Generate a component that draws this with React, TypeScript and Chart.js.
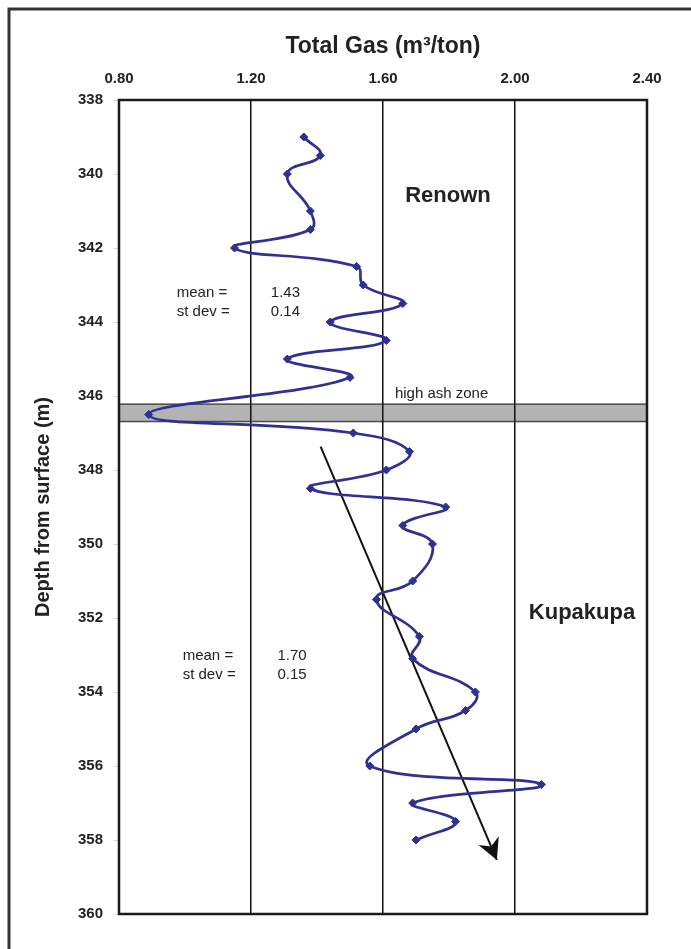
import React, { useEffect, useRef } from 'react';
import { Chart, registerables } from 'chart.js';

Chart.register(...registerables);

// ---- data ----
const depthM = [
  339.0, 339.5, 340.0, 341.0, 341.5, 342.0, 342.5, 343.0, 343.5, 344.0, 344.5,
  345.0, 345.5, 346.5, 347.0, 347.5, 348.0, 348.5, 349.0, 349.5, 350.0, 351.0,
  351.5, 352.5, 353.1, 354.0, 354.5, 355.0, 356.0, 356.5, 357.0, 357.5, 358.0,
];
const totalGas = [
  1.36, 1.41, 1.31, 1.38, 1.38, 1.15, 1.52, 1.54, 1.66, 1.44, 1.61,
  1.31, 1.50, 0.89, 1.51, 1.68, 1.61, 1.38, 1.79, 1.66, 1.75, 1.69,
  1.58, 1.71, 1.69, 1.88, 1.85, 1.70, 1.56, 2.08, 1.69, 1.82, 1.70,
];
const gasTicks = [0.8, 1.2, 1.6, 2.0, 2.4];
const depthTicks = [338, 340, 342, 344, 346, 348, 350, 352, 354, 356, 358, 360];
const trendGas = [1.411, 1.945];
const trendDepth = [347.37, 358.54];
const ashZoneDepth = [346.22, 346.69];

const FONT = "Arial, 'Liberation Sans', Helvetica, sans-serif";

// text notes placed in data coordinates
const notes = [
  { text: 'Renown', x: 1.797, y: 340.6, bold: true, size: 22, align: 'center' },
  { text: 'Kupakupa', x: 2.203, y: 351.86, bold: true, size: 22, align: 'center' },
  { text: 'high ash zone', x: 1.636, y: 345.95, bold: false, size: 15, align: 'left' },
  { text: 'mean =', x: 0.975, y: 343.21, bold: false, size: 15, align: 'left' },
  { text: 'st dev =', x: 0.975, y: 343.72, bold: false, size: 15, align: 'left' },
  { text: '1.43', x: 1.26, y: 343.21, bold: false, size: 15, align: 'left' },
  { text: '0.14', x: 1.26, y: 343.72, bold: false, size: 15, align: 'left' },
  { text: 'mean =', x: 0.993, y: 353.03, bold: false, size: 15, align: 'left' },
  { text: 'st dev =', x: 0.993, y: 353.54, bold: false, size: 15, align: 'left' },
  { text: '1.70', x: 1.28, y: 353.03, bold: false, size: 15, align: 'left' },
  { text: '0.15', x: 1.28, y: 353.54, bold: false, size: 15, align: 'left' },
];

const decorPlugin = {
  id: 'decor',
  beforeDraw(chart: any) {
    const { ctx, chartArea: a, scales } = chart;
    const y = scales.y;
    ctx.save();
    ctx.fillStyle = '#ffffff';
    ctx.fillRect(0, 0, chart.width, chart.height);
    // outer frame (open to the right and bottom edges of the page)
    ctx.strokeStyle = '#333333';
    ctx.lineWidth = 3;
    ctx.strokeRect(9, 9, chart.width + 40, chart.height + 40);
    // high ash zone band
    const y1 = y.getPixelForValue(ashZoneDepth[0]);
    const y2 = y.getPixelForValue(ashZoneDepth[1]);
    ctx.fillStyle = '#b2b3b5';
    ctx.fillRect(a.left, y1, a.right - a.left, y2 - y1);
    ctx.strokeStyle = '#4a4a4a';
    ctx.lineWidth = 1.5;
    ctx.strokeRect(a.left, y1, a.right - a.left, y2 - y1);
    ctx.restore();
  },
  beforeDatasetsDraw(chart: any) {
    const { ctx, chartArea: a, scales } = chart;
    ctx.save();
    ctx.strokeStyle = '#1a1a1a';
    ctx.lineWidth = 2.5;
    ctx.strokeRect(a.left, a.top, a.right - a.left, a.bottom - a.top);
    ctx.fillStyle = '#222222';
    ctx.textBaseline = 'middle';
    for (const n of notes) {
      ctx.font = `${n.bold ? 'bold ' : ''}${n.size}px ${FONT}`;
      ctx.textAlign = n.align as CanvasTextAlign;
      ctx.fillText(n.text, scales.x.getPixelForValue(n.x), scales.y.getPixelForValue(n.y));
    }
    ctx.restore();
  },
  afterDatasetsDraw(chart: any) {
    const { ctx, scales } = chart;
    const x0 = scales.x.getPixelForValue(trendGas[0]);
    const y0 = scales.y.getPixelForValue(trendDepth[0]);
    const x1 = scales.x.getPixelForValue(trendGas[1]);
    const y1 = scales.y.getPixelForValue(trendDepth[1]);
    const len = Math.hypot(x1 - x0, y1 - y0);
    const ux = (x1 - x0) / len;
    const uy = (y1 - y0) / len;
    const nx = -uy;
    const ny = ux;
    const L = 21;
    const W = 11;
    ctx.save();
    ctx.fillStyle = '#111111';
    ctx.beginPath();
    ctx.moveTo(x1, y1);
    ctx.lineTo(x1 - ux * L + nx * W, y1 - uy * L + ny * W);
    ctx.lineTo(x1 - ux * L * 0.7, y1 - uy * L * 0.7);
    ctx.lineTo(x1 - ux * L - nx * W, y1 - uy * L - ny * W);
    ctx.closePath();
    ctx.fill();
    ctx.restore();
  },
};

export default function App() {
  const canvasRef = useRef<HTMLCanvasElement | null>(null);

  useEffect(() => {
    const canvas = canvasRef.current;
    if (!canvas) return;
    const mainPoints = depthM.map((d, i) => ({ x: totalGas[i], y: d }));
    const trendPoints = trendDepth.map((d, i) => ({ x: trendGas[i], y: d }));

    const chart = new Chart(canvas, {
      type: 'scatter',
      data: {
        datasets: [
          {
            label: 'Total gas',
            data: mainPoints,
            showLine: true,
            tension: 0.45,
            borderColor: '#2e3192',
            backgroundColor: '#2e3192',
            borderWidth: 2.7,
            pointStyle: 'rectRot',
            pointRadius: 4,
            pointBorderWidth: 1,
          },
          {
            label: 'Trend',
            data: trendPoints,
            showLine: true,
            tension: 0,
            borderColor: '#111111',
            borderWidth: 2,
            pointRadius: 0,
          },
        ],
      },
      plugins: [decorPlugin],
      options: {
        responsive: false,
        animation: false,
        events: [],
        layout: { padding: { left: 0, top: 0, right: 44, bottom: 35 } },
        plugins: {
          legend: { display: false },
          tooltip: { enabled: false },
        },
        scales: {
          x: {
            type: 'linear',
            position: 'top',
            min: gasTicks[0],
            max: gasTicks[gasTicks.length - 1],
            afterBuildTicks: (s: any) => {
              s.ticks = gasTicks.map((v) => ({ value: v }));
            },
            afterFit: (s: any) => {
              s.height = 100;
            },
            ticks: {
              padding: 12,
              color: '#222222',
              font: { family: FONT, size: 15, weight: 'bold' },
              callback: (v: any) => Number(v).toFixed(2),
            },
            grid: {
              color: '#111111',
              lineWidth: 1.5,
              drawTicks: false,
            },
            border: { display: false },
            title: {
              display: true,
              text: 'Total Gas (m³/ton)',
              color: '#222222',
              font: { family: FONT, size: 23, weight: 'bold' },
              padding: { top: 33, bottom: 0 },
            },
          },
          y: {
            type: 'linear',
            reverse: true,
            min: depthTicks[0],
            max: depthTicks[depthTicks.length - 1],
            afterBuildTicks: (s: any) => {
              s.ticks = depthTicks.map((v) => ({ value: v }));
            },
            afterFit: (s: any) => {
              s.width = 119;
            },
            ticks: {
              padding: 10,
              color: '#222222',
              font: { family: FONT, size: 15, weight: 'bold' },
            },
            grid: {
              drawOnChartArea: false,
              drawTicks: true,
              tickLength: 6,
              color: '#d8d8d8',
              lineWidth: 1,
            },
            border: { display: false },
            title: {
              display: true,
              text: 'Depth from surface (m)',
              color: '#222222',
              font: { family: FONT, size: 20, weight: 'bold' },
              padding: { top: 31, bottom: 0 },
            },
          },
        },
      },
    } as any);

    return () => chart.destroy();
  }, []);

  return (
    <div style={{ position: 'absolute', left: 0, top: 0, width: 691, height: 949 }}>
      <canvas ref={canvasRef} width={691} height={949} style={{ display: 'block' }} />
    </div>
  );
}
